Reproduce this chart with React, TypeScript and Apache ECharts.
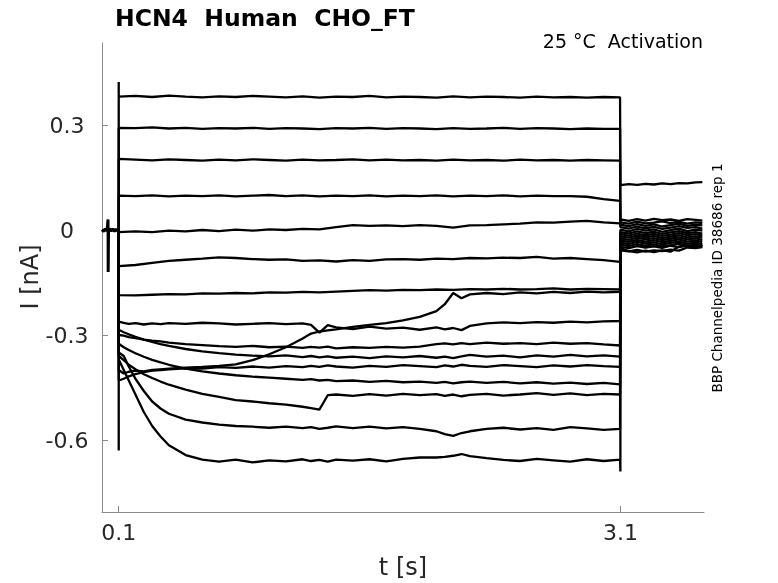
import React, { useEffect, useRef } from "react";
import * as echarts from "echarts";

// ---- axis ticks ----
const X_TICKS = [0.1, 3.1];
const Y_TICKS = [-0.6, -0.3, 0, 0.3];

// ---- time grids (s) ----
const HOLD_T = [0, 0.01, 0.02, 0.03, 0.036, 0.037, 0.039, 0.045, 0.055, 0.065, 0.075, 0.085, 0.095, 0.1];
const HOLD_I = [0.001, -0.004, 0.003, -0.002, 0.03, -0.12, -0.005, 0.004, -0.003, 0.003, -0.004, 0.002, -0.003, 0];

const STEP_T = [0.103, 0.2, 0.3, 0.4, 0.5, 0.6, 0.7, 0.8, 0.9, 1.0, 1.1, 1.2, 1.3, 1.4, 1.5, 1.6, 1.7, 1.8, 1.9, 2.0, 2.1, 2.2, 2.3, 2.4, 2.5, 2.6, 2.7, 2.8, 2.9, 3.0, 3.098];
const LOW_T = [0.103, 0.13, 0.16, 0.2, 0.25, 0.3, 0.35, 0.4, 0.5, 0.6, 0.7, 0.8, 0.9, 1.0, 1.1, 1.2, 1.25, 1.3, 1.35, 1.4, 1.5, 1.6, 1.7, 1.8, 1.9, 2.0, 2.05, 2.1, 2.15, 2.2, 2.3, 2.4, 2.5, 2.6, 2.7, 2.8, 2.9, 3.0, 3.098];
const TAIL_T = [3.102, 3.15, 3.2, 3.25, 3.3, 3.35, 3.4, 3.45, 3.5, 3.55, 3.59];

// ---- currents (nA) during the step ----
const T1 = [0.381, 0.383, 0.380, 0.384, 0.381, 0.379, 0.382, 0.380, 0.383, 0.381, 0.379, 0.382, 0.378, 0.381, 0.380, 0.383, 0.379, 0.381, 0.380, 0.378, 0.382, 0.379, 0.381, 0.380, 0.378, 0.381, 0.379, 0.380, 0.378, 0.380, 0.379];
const T2 = [0.292, 0.291, 0.293, 0.290, 0.292, 0.289, 0.291, 0.290, 0.292, 0.289, 0.291, 0.290, 0.288, 0.291, 0.290, 0.292, 0.289, 0.291, 0.290, 0.288, 0.291, 0.289, 0.290, 0.292, 0.289, 0.291, 0.290, 0.288, 0.290, 0.289, 0.289];
const T3 = [0.203, 0.201, 0.199, 0.202, 0.200, 0.198, 0.201, 0.199, 0.202, 0.200, 0.198, 0.201, 0.199, 0.200, 0.202, 0.199, 0.201, 0.199, 0.200, 0.198, 0.201, 0.199, 0.200, 0.198, 0.201, 0.199, 0.200, 0.198, 0.200, 0.199, 0.198];
const T4 = [0.098, 0.097, 0.099, 0.096, 0.098, 0.097, 0.099, 0.096, 0.098, 0.100, 0.097, 0.099, 0.096, 0.098, 0.097, 0.099, 0.096, 0.098, 0.097, 0.099, 0.096, 0.098, 0.097, 0.099, 0.096, 0.098, 0.097, 0.097, 0.095, 0.088, 0.083];
const T5 = [-0.006, -0.004, -0.006, -0.002, -0.004, 0.000, -0.003, 0.001, -0.002, 0.002, 0.000, 0.003, 0.002, 0.008, 0.014, 0.012, 0.013, 0.011, 0.014, 0.012, 0.007, 0.013, 0.014, 0.016, 0.018, 0.022, 0.021, 0.024, 0.026, 0.022, 0.019];
const T6 = [-0.103, -0.100, -0.094, -0.088, -0.085, -0.082, -0.078, -0.080, -0.083, -0.085, -0.084, -0.088, -0.087, -0.090, -0.086, -0.088, -0.084, -0.083, -0.085, -0.082, -0.083, -0.080, -0.081, -0.079, -0.080, -0.077, -0.082, -0.080, -0.083, -0.086, -0.091];
const T7 = [-0.186, -0.187, -0.185, -0.183, -0.184, -0.181, -0.182, -0.180, -0.181, -0.178, -0.179, -0.177, -0.178, -0.176, -0.174, -0.172, -0.173, -0.171, -0.172, -0.170, -0.171, -0.169, -0.170, -0.168, -0.170, -0.169, -0.167, -0.170, -0.168, -0.169, -0.170];
const T8 = [-0.262, -0.265, -0.268, -0.266, -0.270, -0.267, -0.269, -0.266, -0.268, -0.265, -0.267, -0.270, -0.268, -0.266, -0.269, -0.267, -0.271, -0.293, -0.272, -0.278, -0.283, -0.276, -0.282, -0.279, -0.285, -0.278, -0.284, -0.280, -0.286, -0.274, -0.267, -0.264, -0.266, -0.263, -0.265, -0.262, -0.264, -0.261, -0.260];
const T9 = [-0.400, -0.410, -0.405, -0.402, -0.404, -0.400, -0.398, -0.396, -0.393, -0.391, -0.388, -0.384, -0.372, -0.355, -0.335, -0.310, -0.296, -0.290, -0.287, -0.284, -0.277, -0.271, -0.266, -0.258, -0.248, -0.232, -0.212, -0.180, -0.195, -0.184, -0.180, -0.183, -0.178, -0.181, -0.177, -0.180, -0.176, -0.178, -0.177];
const T10 = [-0.300, -0.302, -0.306, -0.309, -0.313, -0.316, -0.318, -0.322, -0.326, -0.329, -0.332, -0.334, -0.331, -0.335, -0.333, -0.337, -0.334, -0.336, -0.333, -0.338, -0.335, -0.337, -0.334, -0.336, -0.333, -0.326, -0.324, -0.327, -0.323, -0.326, -0.322, -0.325, -0.323, -0.326, -0.322, -0.325, -0.323, -0.327, -0.330];
const T11 = [-0.285, -0.292, -0.298, -0.305, -0.313, -0.320, -0.326, -0.331, -0.340, -0.347, -0.352, -0.356, -0.359, -0.361, -0.358, -0.363, -0.360, -0.364, -0.361, -0.365, -0.362, -0.366, -0.361, -0.364, -0.360, -0.365, -0.362, -0.366, -0.361, -0.357, -0.362, -0.359, -0.364, -0.358, -0.362, -0.357, -0.361, -0.358, -0.362];
const T12 = [-0.430, -0.425, -0.418, -0.412, -0.406, -0.402, -0.400, -0.398, -0.395, -0.396, -0.392, -0.394, -0.390, -0.393, -0.389, -0.392, -0.388, -0.391, -0.387, -0.390, -0.393, -0.388, -0.391, -0.386, -0.389, -0.392, -0.387, -0.390, -0.385, -0.388, -0.391, -0.386, -0.389, -0.392, -0.387, -0.390, -0.386, -0.389, -0.391];
const T13 = [-0.325, -0.335, -0.343, -0.352, -0.362, -0.371, -0.378, -0.385, -0.396, -0.404, -0.410, -0.415, -0.419, -0.422, -0.425, -0.428, -0.426, -0.430, -0.428, -0.432, -0.430, -0.434, -0.431, -0.435, -0.433, -0.437, -0.434, -0.438, -0.435, -0.433, -0.437, -0.434, -0.438, -0.435, -0.439, -0.436, -0.440, -0.437, -0.441];
const T14 = [-0.360, -0.372, -0.385, -0.398, -0.412, -0.423, -0.433, -0.442, -0.456, -0.468, -0.477, -0.486, -0.490, -0.495, -0.499, -0.505, -0.509, -0.513, -0.472, -0.470, -0.474, -0.469, -0.473, -0.468, -0.472, -0.469, -0.474, -0.470, -0.475, -0.471, -0.468, -0.473, -0.470, -0.466, -0.471, -0.467, -0.472, -0.468, -0.470];
const T15 = [-0.350, -0.360, -0.390, -0.425, -0.460, -0.490, -0.510, -0.525, -0.542, -0.550, -0.556, -0.560, -0.562, -0.565, -0.562, -0.566, -0.563, -0.568, -0.565, -0.561, -0.566, -0.562, -0.567, -0.563, -0.568, -0.575, -0.583, -0.588, -0.580, -0.575, -0.568, -0.565, -0.570, -0.566, -0.571, -0.563, -0.567, -0.571, -0.568];
const T16 = [-0.370, -0.400, -0.430, -0.470, -0.520, -0.560, -0.590, -0.615, -0.643, -0.656, -0.662, -0.656, -0.664, -0.658, -0.661, -0.655, -0.660, -0.657, -0.662, -0.656, -0.659, -0.655, -0.661, -0.654, -0.650, -0.650, -0.648, -0.645, -0.640, -0.646, -0.652, -0.657, -0.660, -0.654, -0.658, -0.662, -0.655, -0.660, -0.656];

// ---- tail currents (nA) after the step ----
const TAIL1 = [0.128, 0.131, 0.129, 0.132, 0.130, 0.133, 0.131, 0.134, 0.133, 0.136, 0.137];
const TAIL2 = [0.030, 0.026, 0.031, 0.027, 0.032, 0.028, 0.030, 0.026, 0.031, 0.029, 0.027];
const TAIL3 = [0.022, 0.018, 0.024, 0.019, 0.021, 0.025, 0.020, 0.023, 0.018, 0.022, 0.020];
const TAIL4 = [0.015, 0.011, 0.017, 0.012, 0.016, 0.010, 0.014, 0.018, 0.012, 0.015, 0.013];
const TAIL5 = [0.008, 0.004, 0.010, 0.005, 0.009, 0.003, 0.007, 0.011, 0.006, 0.008, 0.004];
const TAIL6 = [0.001, -0.004, 0.003, -0.002, 0.002, -0.005, 0.000, 0.004, -0.003, 0.001, -0.002];
const TAIL7 = [-0.006, -0.010, -0.004, -0.009, -0.005, -0.011, -0.007, -0.003, -0.009, -0.006, -0.010];
const TAIL8 = [-0.012, -0.016, -0.010, -0.015, -0.011, -0.017, -0.013, -0.009, -0.015, -0.012, -0.016];
const TAIL9 = [-0.018, -0.022, -0.016, -0.021, -0.017, -0.023, -0.019, -0.015, -0.021, -0.018, -0.022];
const TAIL10 = [-0.024, -0.028, -0.022, -0.027, -0.023, -0.029, -0.025, -0.021, -0.027, -0.024, -0.028];
const TAIL11 = [-0.030, -0.034, -0.028, -0.033, -0.029, -0.035, -0.031, -0.027, -0.033, -0.030, -0.034];
const TAIL12 = [-0.036, -0.040, -0.034, -0.039, -0.035, -0.041, -0.037, -0.033, -0.039, -0.036, -0.040];
const TAIL13 = [-0.042, -0.046, -0.040, -0.045, -0.041, -0.047, -0.043, -0.039, -0.045, -0.042, -0.046];
const TAIL14 = [-0.048, -0.052, -0.046, -0.050, -0.047, -0.051, -0.045, -0.049, -0.044, -0.048, -0.046];
const TAIL15 = [-0.058, -0.061, -0.057, -0.062, -0.058, -0.060, -0.056, -0.059, -0.050, -0.052, -0.049];
const TAIL16 = [-0.052, -0.060, -0.064, -0.059, -0.063, -0.058, -0.062, -0.047, -0.045, -0.048, -0.044];

// onset / offset transient peaks (nA); null = none
const ONSET = [0.423, null, null, null, null, null, null, null, null, null, null, null, null, null, null, -0.63];
const OFFSET = [null, null, null, null, null, null, null, null, null, null, null, null, null, null, null, -0.69];

const STEPS = [T1, T2, T3, T4, T5, T6, T7, T8, T9, T10, T11, T12, T13, T14, T15, T16];
const TAILS = [TAIL1, TAIL2, TAIL3, TAIL4, TAIL5, TAIL6, TAIL7, TAIL8, TAIL9, TAIL10, TAIL11, TAIL12, TAIL13, TAIL14, TAIL15, TAIL16];

const FONT = '"DejaVu Sans", "Liberation Sans", sans-serif';

function buildTrace(k: number): number[][] {
  const vals = STEPS[k];
  const times = vals.length === STEP_T.length ? STEP_T : LOW_T;
  const pts: number[][] = [[0.1, 0]];
  const on = ONSET[k];
  if (on !== null) pts.push([0.1, on]);
  pts.push([0.1, vals[0]]);
  times.forEach((t, i) => pts.push([t, vals[i]]));
  pts.push([3.1, vals[vals.length - 1]]);
  const off = OFFSET[k];
  if (off !== null) pts.push([3.1, off]);
  const tail = TAILS[k];
  pts.push([3.1, tail[0]]);
  TAIL_T.forEach((t, i) => pts.push([t, tail[i]]));
  return pts;
}

export default function App() {
  const ref = useRef<HTMLDivElement>(null);
  useEffect(() => {
    const chart = echarts.init(ref.current!, null, { renderer: "svg" });
    const lineStyle = { color: "#000000", width: 2.3 };
    const series: any[] = [
      {
        type: "line",
        data: HOLD_T.map((t, i) => [t, HOLD_I[i]]),
        showSymbol: false,
        lineStyle: { color: "#000000", width: 3 },
        silent: true,
      },
    ];
    STEPS.forEach((_, k) => {
      series.push({
        type: "line",
        data: buildTrace(k),
        showSymbol: false,
        lineStyle,
        silent: true,
      });
    });
    const axisColor = "#8a8a8a";
    chart.setOption({
      animation: false,
      grid: { left: 102, right: 74, top: 43, bottom: 71, containLabel: false, outerBoundsMode: "none" },
      xAxis: {
        type: "value",
        min: 0,
        max: 3.6,
        axisLine: { show: true, onZero: false, lineStyle: { color: axisColor, width: 1 } },
        axisTick: { show: true, inside: true, length: 6, customValues: X_TICKS, lineStyle: { color: axisColor } },
        axisLabel: {
          customValues: X_TICKS,
          formatter: (v: number) => String(Math.round(v * 10) / 10),
          fontSize: 22,
          fontFamily: FONT,
          color: "#262626",
          margin: 9,
        },
        splitLine: { show: false },
      },
      yAxis: {
        type: "value",
        min: -0.8057,
        max: 0.5343,
        axisLine: { show: true, onZero: false, lineStyle: { color: axisColor, width: 1 } },
        axisTick: { show: true, inside: true, length: 6, customValues: Y_TICKS, lineStyle: { color: axisColor } },
        axisLabel: {
          customValues: Y_TICKS,
          formatter: (v: number) => String(Math.round(v * 10) / 10),
          fontSize: 22,
          fontFamily: FONT,
          color: "#262626",
          align: "center",
          margin: 35,
        },
        splitLine: { show: false },
      },
      graphic: [
        {
          type: "text",
          x: 115,
          y: 18,
          style: { text: "HCN4  Human  CHO_FT", fontSize: 23.5, fontWeight: "bold", fontFamily: FONT, fill: "#000", align: "left", verticalAlign: "middle" },
        },
        {
          type: "text",
          x: 703,
          y: 41,
          style: { text: "25 °C  Activation", fontSize: 19, fontFamily: FONT, fill: "#000", align: "right", verticalAlign: "middle" },
        },
        {
          type: "text",
          x: 403,
          y: 567,
          style: { text: "t [s]", fontSize: 24, fontFamily: FONT, fill: "#262626", align: "center", verticalAlign: "middle" },
        },
        {
          type: "text",
          x: 30,
          y: 277,
          rotation: Math.PI / 2,
          style: { text: "I [nA]", fontSize: 24, fontFamily: FONT, fill: "#262626", align: "center", verticalAlign: "middle" },
        },
        {
          type: "text",
          x: 717,
          y: 278,
          rotation: Math.PI / 2,
          style: { text: "BBP Channelpedia ID 38686 rep 1", fontSize: 13.5, fontFamily: FONT, fill: "#000", align: "center", verticalAlign: "middle" },
        },
      ],
      series,
    });
    return () => chart.dispose();
  }, []);
  return <div ref={ref} style={{ position: "fixed", left: 0, top: 0, width: 778, height: 583 }} />;
}
